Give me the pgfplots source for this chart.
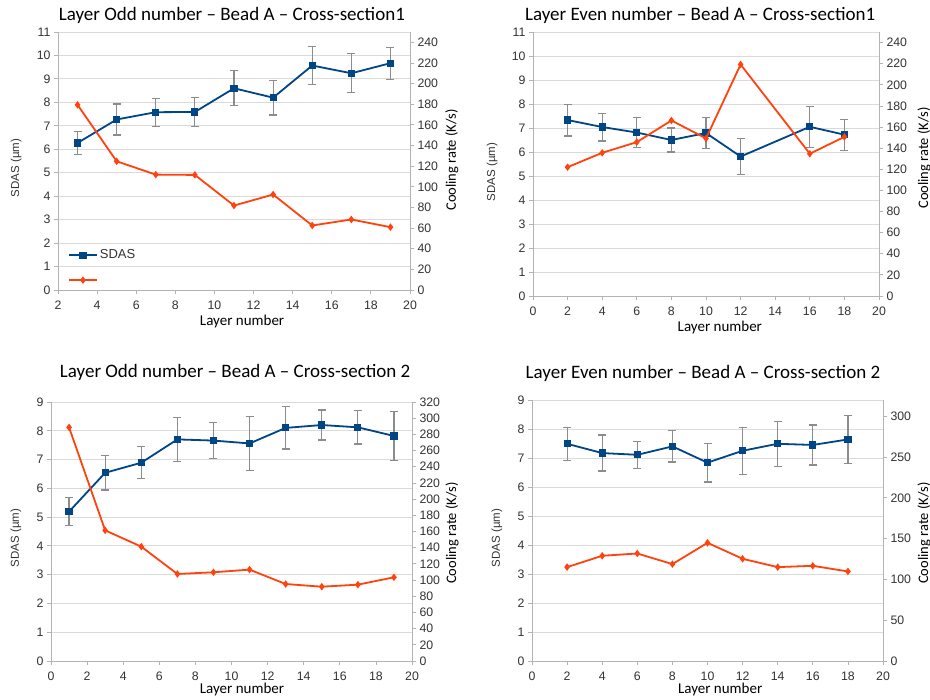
\documentclass[border=0pt]{standalone}
\usepackage{fontspec}
\setmainfont{Carlito}
\newfontfamily\lib{Liberation Sans}
\usepackage{pgfplots}
\pgfplotsset{compat=1.18}
\definecolor{sblue}{HTML}{004586}
\definecolor{sorange}{HTML}{FF420E}
\definecolor{axgray}{HTML}{B3B3B3}
\definecolor{gridgray}{HTML}{DADADA}
\definecolor{tickgray}{HTML}{333333}
\definecolor{errgray}{HTML}{8C8C8C}
\newcommand\tickfont{\lib\fontsize{12.3bp}{14bp}\selectfont}
\pgfplotsset{
  every axis title shift=0pt,
  common/.style={
    scale only axis,
    tick align=outside, major tick length=4bp,
    every tick/.style={axgray, line width=0.8bp},
    axis line style={axgray, line width=0.8bp},
    ticklabel style={font=\tickfont, text=tickgray},
    xticklabel style={yshift=-3.5bp},
    /pgf/number format/assume math mode=true,
    clip=false,
  },
  leftax/.style={common,
    axis x line*=bottom, axis y line*=left,
    ymajorgrids, grid style={gridgray, line width=0.8bp},
    xlabel style={font=\fontsize{15bp}{17bp}\selectfont, anchor=base},
    ylabel style={font=\lib\fontsize{11.5bp}{13bp}\selectfont, text=tickgray, anchor=center},
    title style={font=\fontsize{19bp}{21bp}\selectfont, anchor=base},
    xlabel={Layer number}, ylabel={SDAS (µm)},
  },
  rightax/.style={common,
    axis x line=none, axis y line*=right,
    ylabel style={font=\fontsize{14.5bp}{17bp}\selectfont, anchor=center},
    ylabel={Cooling rate (K/s)},
  },
  sdas/.style={sblue, line width=1.8bp, mark=square*, mark size=2.7bp, mark options={solid},
    error bars/.cd, y dir=both, y explicit,
    error bar style={errgray, line width=1.2bp},
    error mark options={rotate=90, errgray, mark size=4bp, line width=1.2bp}},
  cool/.style={sorange, line width=1.8bp, mark=diamond*, mark size=2.3bp, mark options={solid}},
}
\begin{document}
\begin{tikzpicture}[x=1bp,y=1bp]
\useasboundingbox (0,0) rectangle (930,700);
\fill[white] (0,0) rectangle (930,700);
% ---------- Panel 1 ----------
\begin{axis}[leftax, at={(58bp,410bp)}, anchor=south west, width=352bp, height=258bp,
  xmin=2, xmax=20, xtick={2,4,...,20}, ymin=0, ymax=11, ytick={0,1,...,11},
  title={Layer Odd number -- Bead A -- Cross-section1},
  title style={at={(axis description cs:0.494,1.043)}},
  xlabel style={at={(axis description cs:0.523,-0.136)}},
  ylabel style={at={(axis description cs:-0.119,0.473)}},
  legend style={at={(axis description cs:0.028,0.164)}, anchor=north west, draw=none, fill=none,
    font=\lib\fontsize{13bp}{15bp}\selectfont, text=tickgray, row sep=15bp, inner sep=0pt},
  legend cell align=left,
  legend image code/.code={\draw[#1, mark repeat=2, mark phase=2] plot coordinates {(0bp,0bp) (14bp,0bp) (28bp,0bp)};},
]
\addplot[sdas] coordinates {
 (3,6.27) +- (0,0.50)
 (5,7.27) +- (0,0.66)
 (7,7.58) +- (0,0.60)
 (9,7.59) +- (0,0.63)
 (11,8.60) +- (0,0.75)
 (13,8.20) +- (0,0.74)
 (15,9.57) +- (0,0.80)
 (17,9.24) +- (0,0.83)
 (19,9.67) +- (0,0.68)
};
\addlegendentry{SDAS}
\addlegendimage{cool}
\addlegendentry{\mbox{}}
\end{axis}
\begin{axis}[rightax, at={(58bp,410bp)}, anchor=south west, width=352bp, height=258bp,
  xmin=2, xmax=20, ymin=0, ymax=250, ytick={0,20,...,240},
  ylabel style={at={(axis description cs:1.119,0.504)}},
]
\addplot[cool] coordinates {(3,179.4) (5,124.7) (7,111.8) (9,111.5) (11,81.8) (13,92.5) (15,62.5) (17,68.3) (19,60.9)};
\end{axis}
% ---------- Panel 2 ----------
\begin{axis}[leftax, at={(533bp,404bp)}, anchor=south west, width=346bp, height=264bp,
  xmin=0, xmax=20, xtick={0,2,...,20}, ymin=0, ymax=11, ytick={0,1,...,11},
  title={Layer Even number -- Bead A -- Cross-section1},
  title style={at={(axis description cs:0.483,1.042)}},
  xlabel style={at={(axis description cs:0.540,-0.136)}},
  ylabel style={at={(axis description cs:-0.118,0.47)}},
]
\addplot[sdas] coordinates {
 (2,7.33) +- (0,0.66)
 (4,7.04) +- (0,0.58)
 (6,6.81) +- (0,0.63)
 (8,6.50) +- (0,0.50)
 (10,6.79) +- (0,0.66)
 (12,5.81) +- (0,0.76)
 (16,7.05) +- (0,0.85)
 (18,6.72) +- (0,0.65)
};
\end{axis}
\begin{axis}[rightax, at={(533bp,404bp)}, anchor=south west, width=346bp, height=264bp,
  xmin=0, xmax=20, ymin=0, ymax=250, ytick={0,20,...,240},
  ylabel style={at={(axis description cs:1.130,0.523)}},
]
\addplot[cool] coordinates {(2,122.0) (4,135.6) (6,145.7) (8,166.2) (10,149.2) (12,219.2) (16,134.7) (18,150.7)};
\end{axis}
% ---------- Panel 3 ----------
\begin{axis}[leftax, at={(51bp,39bp)}, anchor=south west, width=361bp, height=259bp,
  xmin=0, xmax=20, xtick={0,2,...,20}, ymin=0, ymax=9, ytick={0,1,...,9},
  title={Layer Odd number -- Bead A -- Cross-section\ 2},
  title style={at={(axis description cs:0.51,1.093)}},
  xlabel style={at={(axis description cs:0.529,-0.127)}},
  ylabel style={at={(axis description cs:-0.097,0.475)}},
]
\addplot[sdas] coordinates {
 (1,5.19) +- (0,0.48)
 (3,6.54) +- (0,0.60)
 (5,6.89) +- (0,0.56)
 (7,7.70) +- (0,0.76)
 (9,7.66) +- (0,0.62)
 (11,7.56) +- (0,0.93)
 (13,8.10) +- (0,0.73)
 (15,8.20) +- (0,0.52)
 (17,8.12) +- (0,0.58)
 (19,7.82) +- (0,0.86)
};
\end{axis}
\begin{axis}[rightax, at={(51bp,39bp)}, anchor=south west, width=361bp, height=259bp,
  xmin=0, xmax=20, ymin=0, ymax=320, ytick={0,20,...,320},
  ylabel style={at={(axis description cs:1.111,0.494)}},
]
\addplot[cool] coordinates {(1,288.7) (3,161.4) (5,141.3) (7,107.5) (9,109.6) (11,112.9) (13,95.1) (15,91.8) (17,94.3) (19,103.4)};
\end{axis}
% ---------- Panel 4 ----------
\begin{axis}[leftax, at={(532bp,39bp)}, anchor=south west, width=351bp, height=261bp,
  xmin=0, xmax=20, xtick={0,2,...,20}, ymin=0, ymax=9, ytick={0,1,...,9},
  title={Layer Even number -- Bead A -- Cross-section\ 2},
  title style={at={(axis description cs:0.487,1.084)}},
  xlabel style={at={(axis description cs:0.536,-0.126)}},
  ylabel style={at={(axis description cs:-0.10,0.471)}},
]
\addplot[sdas] coordinates {
 (2,7.49) +- (0,0.57)
 (4,7.17) +- (0,0.62)
 (6,7.11) +- (0,0.46)
 (8,7.40) +- (0,0.54)
 (10,6.84) +- (0,0.67)
 (12,7.25) +- (0,0.81)
 (14,7.49) +- (0,0.78)
 (16,7.45) +- (0,0.69)
 (18,7.64) +- (0,0.83)
};
\end{axis}
\begin{axis}[rightax, at={(532bp,39bp)}, anchor=south west, width=351bp, height=261bp,
  xmin=0, xmax=20, ymin=0, ymax=320, ytick={0,50,...,300},
  ylabel style={at={(axis description cs:1.117,0.49)}},
]
\addplot[cool] coordinates {(2,115.1) (4,129.0) (6,131.8) (8,118.8) (10,144.9) (12,125.3) (14,115.1) (16,116.7) (18,109.8)};
\end{axis}
\end{tikzpicture}
\end{document}
